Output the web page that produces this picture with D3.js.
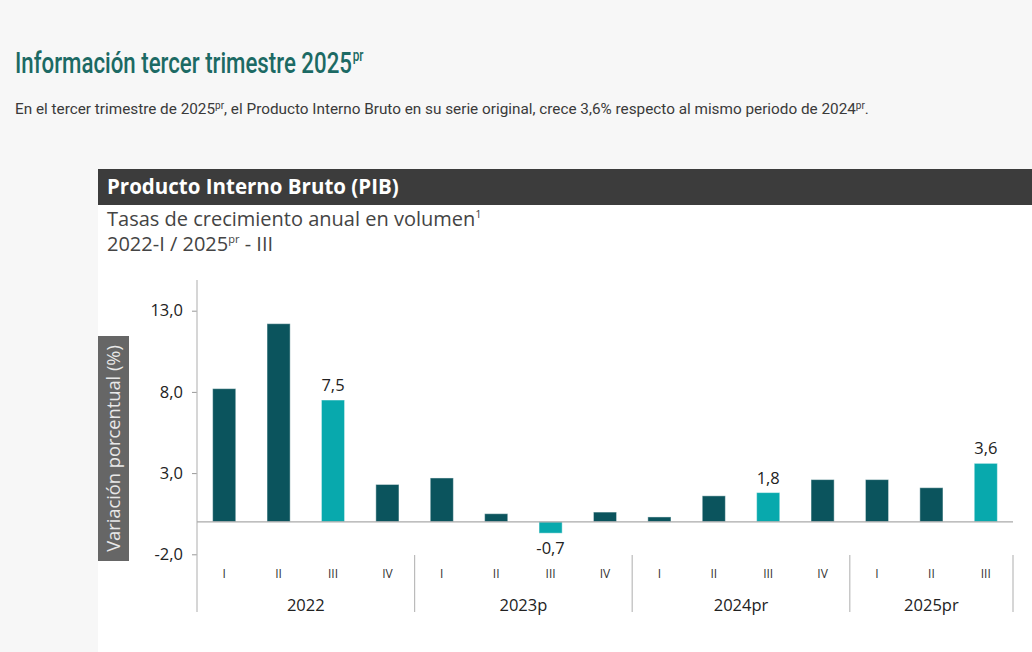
<!DOCTYPE html>
<html>
<head>
<meta charset="utf-8">
<script src="https://cdn.jsdelivr.net/npm/d3@7"></script>
<style>
  html, body { margin: 0; padding: 0; background: #f7f7f7; }
  svg { display: block; }
</style>
</head>
<body>
<svg id="chart" width="1032" height="652"></svg>
<script>
// ---- data ----
const years = ["2022", "2023p", "2024pr", "2025pr"];
const quarters = ["I", "II", "III", "IV", "I", "II", "III", "IV", "I", "II", "III", "IV", "I", "II", "III"];
const yearOfBar = [0, 0, 0, 0, 1, 1, 1, 1, 2, 2, 2, 2, 3, 3, 3];
const values = [8.2, 12.2, 7.5, 2.3, 2.7, 0.5, -0.7, 0.6, 0.3, 1.6, 1.8, 2.6, 2.6, 2.1, 3.6];
const highlighted = [false, false, true, false, false, false, true, false, false, false, true, false, false, false, true];
const yTicks = [-2, 3, 8, 13];

const svg = d3.select("#chart");
const fmt = v => d3.format(".1f")(v).replace(".", ",").replace("\u2212", "-");

// page title (single text, horizontally condensed)
const titleG = svg.append("g");
const title = titleG.append("text")
  .attr("x", 0).attr("y", 0)
  .attr("font-family", "Roboto, sans-serif").attr("font-weight", 500)
  .attr("font-size", 30).attr("fill", "#1c6a64");
const tMain = title.append("tspan").text("Información tercer trimestre 2025");
title.append("tspan").attr("font-size", 16).attr("dy", -12).attr("dx", 1).text("pr");
const mainW = tMain.node().getComputedTextLength();
const sx = 337 / mainW;
titleG.attr("transform", `translate(15,73) scale(${sx},1)`);

// paragraph
const para = svg.append("text")
  .attr("x", 15).attr("y", 114)
  .attr("font-family", "Roboto, sans-serif").attr("font-size", 15.3).attr("fill", "#3a3a3a");
para.append("tspan").text("En el tercer trimestre de 2025");
para.append("tspan").attr("font-size", 10).attr("dy", -5).text("pr");
para.append("tspan").attr("dy", 5).text(", el Producto Interno Bruto en su serie original, crece 3,6% respecto al mismo periodo de 2024");
para.append("tspan").attr("font-size", 10).attr("dy", -5).text("pr");
para.append("tspan").attr("dy", 5).text(".");

// chart panel
svg.append("rect").attr("x", 98).attr("y", 169).attr("width", 934).attr("height", 483).attr("fill", "#ffffff");
svg.append("rect").attr("x", 98).attr("y", 169).attr("width", 934).attr("height", 36).attr("fill", "#3c3c3c");
svg.append("text")
  .attr("x", 107).attr("y", 194)
  .attr("font-family", "'Open Sans', sans-serif").attr("font-weight", 700)
  .attr("font-size", 20.5).attr("fill", "#ffffff")
  .text("Producto Interno Bruto (PIB)");

const sub1 = svg.append("text")
  .attr("x", 107).attr("y", 226)
  .attr("font-family", "'Open Sans', sans-serif").attr("font-size", 20).attr("fill", "#444");
sub1.append("tspan").text("Tasas de crecimiento anual en volumen");
sub1.append("tspan").attr("font-size", 11).attr("dy", -8).text("1");

const sub2 = svg.append("text")
  .attr("x", 107).attr("y", 251)
  .attr("font-family", "'Open Sans', sans-serif").attr("font-size", 20).attr("fill", "#444");
sub2.append("tspan").text("2022-I / 2025");
sub2.append("tspan").attr("font-size", 11).attr("dy", -8).text("pr");
sub2.append("tspan").attr("dy", 8).text(" - III");

// scales
const x = d3.scaleBand()
  .domain(d3.range(values.length))
  .range([197, 1013])
  .paddingInner(0.575)
  .paddingOuter(0.2875);
const y = d3.scaleLinear().domain([-2, 13]).range([554.3, 310.7]);

// y axis
const yAxis = d3.axisLeft(y).tickValues(yTicks).tickSize(5).tickPadding(9).tickFormat(fmt);
const gy = svg.append("g").attr("transform", "translate(197,0)").call(yAxis);
gy.select(".domain").remove();
gy.selectAll(".tick line").attr("stroke", "#999");
gy.selectAll(".tick text")
  .attr("font-family", "'Open Sans', sans-serif").attr("font-size", 16.5).attr("fill", "#222");
svg.append("line").attr("x1", 197).attr("x2", 197).attr("y1", 280).attr("y2", 612)
  .attr("stroke", "#bbb").attr("stroke-width", 1.2);

// y title box
svg.append("rect").attr("x", 98).attr("y", 336).attr("width", 31).attr("height", 225).attr("fill", "#666");
svg.append("text")
  .attr("transform", `translate(120,${(336 + 561) / 2}) rotate(-90)`)
  .attr("text-anchor", "middle")
  .attr("font-family", "'Open Sans', sans-serif").attr("font-size", 18.3).attr("fill", "#e8e8e8")
  .text("Variación porcentual (%)");

// bars
svg.append("g").selectAll("rect").data(values).join("rect")
  .attr("x", (d, i) => x(i))
  .attr("width", x.bandwidth())
  .attr("y", d => y(Math.max(0, d)))
  .attr("height", d => Math.abs(y(d) - y(0)))
  .attr("fill", (d, i) => highlighted[i] ? "#08a9ad" : "#0b545d")
  .attr("stroke", "rgba(255,255,255,0.45)").attr("stroke-width", 1);

// zero line
svg.append("line").attr("x1", 197).attr("x2", 1013).attr("y1", y(0)).attr("y2", y(0))
  .attr("stroke", "#aaa").attr("stroke-width", 1.2);

// value labels
svg.append("g").selectAll("text").data(values.map((v, i) => ({ v, i })).filter(d => highlighted[d.i])).join("text")
  .attr("x", d => x(d.i) + x.bandwidth() / 2)
  .attr("y", d => d.v >= 0 ? y(d.v) - 9 : y(d.v) + 21)
  .attr("text-anchor", "middle")
  .attr("font-family", "'Open Sans', sans-serif").attr("font-size", 16.5).attr("fill", "#222")
  .text(d => fmt(d.v));

// quarter labels
svg.append("g").selectAll("text").data(quarters).join("text")
  .attr("x", (d, i) => x(i) + x.bandwidth() / 2)
  .attr("y", 578)
  .attr("text-anchor", "middle")
  .attr("font-family", "'Open Sans', sans-serif").attr("font-size", 12).attr("fill", "#333")
  .text(d => d);

// year groups
const groups = years.map((yr, gi) => {
  const idx = d3.range(values.length).filter(i => yearOfBar[i] === gi);
  const start = x(idx[0]) - x.step() * x.paddingInner() / 2;
  const end = x(idx[idx.length - 1]) + x.bandwidth() + x.step() * x.paddingInner() / 2;
  return { yr, start, end };
});
svg.append("g").selectAll("text").data(groups).join("text")
  .attr("x", d => (d.start + d.end) / 2)
  .attr("y", 611)
  .attr("text-anchor", "middle")
  .attr("font-family", "'Open Sans', sans-serif").attr("font-size", 16.5).attr("fill", "#222")
  .text(d => d.yr);
svg.append("g").selectAll("line").data(groups.map(g => g.end)).join("line")
  .attr("x1", d => d).attr("x2", d => d).attr("y1", 555).attr("y2", 612)
  .attr("stroke", "#bbb").attr("stroke-width", 1.2);
</script>
</body>
</html>
